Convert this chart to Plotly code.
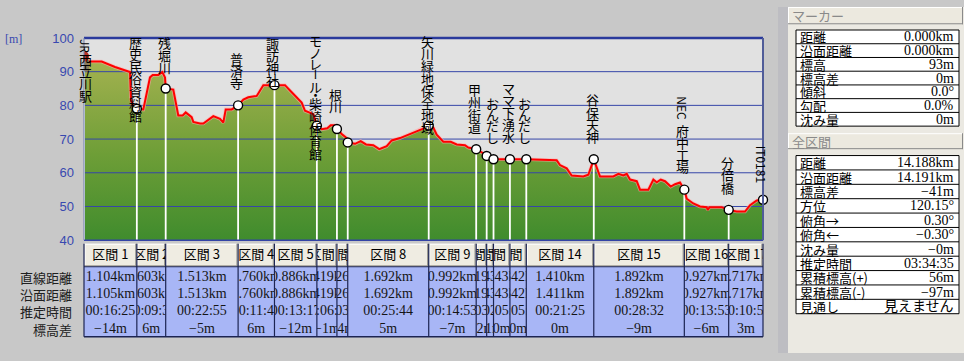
import plotly.graph_objects as go
import numpy as np

W, H = 964, 361

# ---------------- data ----------------
profile_km = [0.000, 0.370, 0.648, 0.926, 0.961, 0.982, 1.030, 1.104, 1.239, 1.379,
              1.435, 1.553, 1.636, 1.693, 1.707, 1.866, 1.970, 2.062, 2.125, 2.250,
              2.284, 2.424, 2.493, 2.702, 2.842, 2.911, 2.961, 3.086, 3.220, 3.329,
              3.433, 3.609, 3.747, 3.980, 4.200, 4.305, 4.549, 4.618, 4.792, 4.866,
              4.967, 5.084, 5.155, 5.245, 5.285, 5.385, 5.489, 5.511, 5.663, 5.782,
              5.893, 6.045, 6.170, 6.325, 6.430, 6.603, 6.776, 6.952, 7.090, 7.203,
              7.299, 7.370, 7.508, 7.663, 7.788, 7.961, 8.030, 8.195, 8.310, 8.414,
              8.557, 8.900, 9.242, 9.877, 9.946, 10.086, 10.190, 10.433, 10.538, 10.652,
              10.783, 11.061, 11.166, 11.270, 11.341, 11.410, 11.550, 11.619, 11.792, 11.897,
              11.968, 12.051, 12.141, 12.260, 12.350, 12.454, 12.544, 12.594, 12.732, 12.872,
              13.012, 13.033, 13.070, 13.325, 13.471, 13.639, 13.812, 13.917, 14.057, 14.188]
profile_m = [93, 93, 91.4, 89.9, 89.9, 81.7, 79.8, 79, 78.8, 88.3,
             89.0, 89.0, 89.9, 88.3, 85, 84.7, 77.0, 77.0, 77.9, 76.5,
             75.1, 74.6, 74.6, 76.8, 76.0, 74.9, 78.8, 78.8, 80, 81.7,
             82.4, 82.8, 86.0, 86, 86, 84.4, 80.8, 78.4, 77.4, 74,
             72.9, 73.2, 74.1, 74.1, 73, 71.5, 70.3, 69, 68.6, 69.4,
             68.4, 68.2, 67.0, 67.9, 69.6, 70.3, 71.3, 72.4, 73.1, 74,
             73.4, 71.3, 69.2, 69.2, 68.4, 68.2, 67.5, 67, 66.0, 65,
             64, 64, 64, 63.7, 62.3, 61.3, 59.2, 58.9, 59.4, 64,
             58.9, 58.9, 59.7, 59.2, 59.7, 58.0, 57.5, 55.0, 55.0, 58.0,
             57.2, 58.0, 57.5, 55.9, 56.6, 57.1, 55, 52.3, 50.9, 50.0,
             49.8, 49.0, 49.8, 49.8, 49, 48.5, 48.5, 50.4, 51.8, 52]

wp_names = ["JR西立川駅", "歴史民俗資料館", "残堀川", "普済寺", "諏訪神社",
            "モノレール・柴崎体育館", "根川", "", "矢川緑地保全地域", "甲州街道", "",
            "おんだし", "ママ下湧水", "おんだし", "谷保天神", "NEC府中工場", "分倍橋", "IT0181"]
wp_elev = [93, 79, 85, 80, 86, 74, 73, 69, 74, 67, 65, 64, 64, 64, 64, 55, 49, 52]

seg_dist_km = [1.104, 0.603, 1.513, 0.760, 0.886, 0.419, 0.226, 1.692, 0.992,
               0.219, 0.143, 0.343, 0.342, 1.410, 1.892, 0.927, 0.717]
seg_surf_km = [1.105, 0.603, 1.513, 0.760, 0.886, 0.419, 0.226, 1.692, 0.992,
               0.219, 0.143, 0.343, 0.342, 1.411, 1.892, 0.927, 0.717]
seg_time = ["00:16:25", "00:09:34", "00:22:55", "00:11:41", "00:13:17", "00:06:24",
            "00:03:21", "00:25:44", "00:14:53", "00:03:16", "00:02:08", "00:05:06",
            "00:05:05", "00:21:25", "00:28:32", "00:13:53", "00:10:56"]
seg_dh_m = [-14, 6, -5, 6, -12, -1, -4, 5, -7, -2, -1, 0, 0, 0, -9, -6, 3]

row_labels = ["直線距離", "沿面距離", "推定時間", "標高差"]
y_ticks = [40, 50, 60, 70, 80, 90, 100]

marker_labels = ["距離", "沿面距離", "標高", "標高差", "傾斜", "勾配", "沈み量"]
marker_values = ["0.000km", "0.000km", "93m", "0m", "0.0°", "0.0%", "0m"]
total_labels = ["距離", "沿面距離", "標高差", "方位", "俯角→", "俯角←", "沈み量",
                "推定時間", "累積標高(+)", "累積標高(-)", "見通し"]
total_values = ["14.188km", "14.191km", "−41m", "120.15°", "0.30°", "−0.30°", "−0m",
                "03:34:35", "56m", "−97m", "見えません"]

# ---------------- geometry (pixels) ----------------
X0, X1 = 84, 763          # plot area left/right
Y0, Y1 = 32.3, 243.3      # plot area top/bottom
YMIN, YMAX = y_ticks[0], y_ticks[-1]
TH0, THB, TB1 = 247, 271, 344   # table header top, body top, bottom

cum = np.concatenate([[0.0], np.cumsum(seg_dist_km)])
total = float(cum[-1])
px_per_km = (X1 - X0) / total
px_per_m = (Y1 - Y0) / (YMAX - YMIN)


def kx(km):
    return X0 + km * px_per_km


def my(m):
    return Y0 + (YMAX - m) * px_per_m


def PX(x):
    return x / W


def PY(y):
    return 1 - y / H


shapes = []
annotations = []


def rect(x0, y0, x1, y1, fill, line=None, lw=0, layer="below"):
    shapes.append(dict(type="rect", xref="paper", yref="paper",
                       x0=PX(x0), x1=PX(x1), y0=PY(y1), y1=PY(y0),
                       fillcolor=fill, layer=layer,
                       line=dict(width=lw, color=line or fill)))


def seg(x0, y0, x1, y1, color, lw=1, layer="above"):
    shapes.append(dict(type="line", xref="paper", yref="paper",
                       x0=PX(x0), x1=PX(x1), y0=PY(y0), y1=PY(y1),
                       layer=layer, line=dict(width=lw, color=color)))


def text(x, y, s, size=13, color="black", family="Noto Sans CJK JP", xanchor="center", angle=0):
    annotations.append(dict(x=PX(x), y=PY(y), xref="paper", yref="paper", text=s,
                            showarrow=False, xanchor=xanchor, yanchor="middle",
                            textangle=angle, font=dict(size=size, color=color, family=family)))


fig = go.Figure()

# plot background
rect(X0, Y0, X1, Y1, "#e1e1e1")

# filled terrain
fig.add_trace(go.Scatter(x=profile_km, y=profile_m, mode="lines", line=dict(width=0),
                         fill="tozeroy",
                         fillgradient=dict(type="vertical",
                                           colorscale=[[0, "#3b8a2c"], [0.45, "#6e9e37"], [1, "#b0b655"]],
                                           start=YMIN, stop=YMAX),
                         hoverinfo="skip", showlegend=False))

# grid lines (on top of terrain)
gx, gy = [], []
for g in y_ticks[1:-1]:
    gx += [0, total, None]
    gy += [g, g, None]
fig.add_trace(go.Scatter(x=gx, y=gy, mode="lines", line=dict(color="#3646a8", width=1),
                         hoverinfo="skip", showlegend=False))

# white drop lines
dx, dy = [], []
for c, e in zip(cum, wp_elev):
    dx += [c, c, None]
    dy += [e, YMIN, None]
fig.add_trace(go.Scatter(x=dx, y=dy, mode="lines", line=dict(color="white", width=1.8),
                         hoverinfo="skip", showlegend=False))

# profile line with light halo
fig.add_trace(go.Scatter(x=profile_km, y=profile_m, mode="lines",
                         line=dict(color="rgba(255,170,170,0.6)", width=3.6),
                         hoverinfo="skip", showlegend=False))
fig.add_trace(go.Scatter(x=profile_km, y=profile_m, mode="lines",
                         line=dict(color="#ff0000", width=2),
                         hoverinfo="skip", showlegend=False))

# waypoint markers
fig.add_trace(go.Scatter(x=cum[1:], y=wp_elev[1:], mode="markers",
                         marker=dict(symbol="circle", size=9, color="white",
                                     line=dict(color="black", width=1.4)),
                         hoverinfo="skip", showlegend=False, cliponaxis=False))

# hiker icon at start
shapes.append(dict(type="rect", xref="x", yref="y", xsizemode="pixel", ysizemode="pixel",
                   xanchor=cum[0], yanchor=wp_elev[0], x0=-2, x1=5, y0=-10, y1=2,
                   fillcolor="#8c7c5c", line=dict(width=0), layer="above"))
shapes.append(dict(type="circle", xref="x", yref="y", xsizemode="pixel", ysizemode="pixel",
                   xanchor=cum[0], yanchor=wp_elev[0], x0=-3, x1=5, y0=0, y1=10,
                   fillcolor="#b83024", line=dict(width=0), layer="above"))

# waypoint labels (vertical text)
ASC_W = {"I": 4.5, "1": 5.5, "T": 7.5, "N": 10, "E": 9.5, "C": 10}


def char_pitch(ch):
    if ch == "・":
        return 6.0
    if "\u3040" <= ch <= "\u30ff":   # kana
        return 11.3
    return 12.3


def slots_for(name):
    out = []
    buf = ""
    for ch in name:
        if ord(ch) < 128:
            buf += ch
            continue
        if buf:
            out.append((buf, sum(ASC_W.get(c, 6.5) for c in buf) + 2, 90))
            buf = ""
        out.append((ch, char_pitch(ch), 90 if ch == "ー" else 0))
    if buf:
        out.append((buf, sum(ASC_W.get(c, 6.5) for c in buf) + 2, 90))
    return out


for c, e, name in zip(cum, wp_elev, wp_names):
    if not name:
        continue
    sl = slots_for(name)
    hh = sum(s[1] for s in sl)
    mpx = my(e)
    top = mpx - 16.5 - hh
    if top < Y0 + 1:
        top = Y0 + 1
    acc = top
    for s, h, ang in sl:
        cy = acc + h / 2
        acc += h
        annotations.append(dict(x=c, y=e, xref="x", yref="y", text=s, showarrow=False,
                                xanchor="center", yanchor="middle", textangle=ang,
                                xshift=(1.5 if c == 0 else -1.5),
                                yshift=mpx - cy,
                                font=dict(size=13 if ang == 0 else 12, color="black",
                                          family="Noto Sans CJK JP")))

# frame lines of plot
seg(X0, Y0, X1, Y0, "#2a3a9c", 2.5)
seg(X0, Y1, X1, Y1, "#3343a6", 1.5)
seg(X1, Y0, X1, Y1, "#505c98", 2)
seg(X0, Y0, X0, Y1, "#7080b0", 1)

# "[m]" label
text(3, 33, "[m]", size=12, color="#3848b0", family="Liberation Serif", xanchor="left")

# ---------------- table ----------------
rect(X0, THB, X1, TB1, "#a8b6f6")
row_y = [35, 53, 70.5, 89]     # relative to header top
for i in range(len(seg_dist_km)):
    xa, xb = kx(cum[i]), kx(cum[i + 1])
    # header button
    rect(xa + 0.5, TH0, xb - 0.5, THB, "#efece2")
    seg(xa + 1, TH0 + 0.5, xb - 1, TH0 + 0.5, "white", 1, "below")
    seg(xa + 1, TH0, xa + 1, THB, "white", 1, "below")
    seg(xb - 1.2, TH0, xb - 1.2, THB, "#9a9890", 1, "below")
    seg(xa, THB - 1, xb, THB - 1, "#9a9890", 1, "below")
    n = i + 2
    fig.layout[f"xaxis{n}"] = dict(domain=[PX(xa), PX(xb)], range=[cum[i], cum[i + 1]],
                                   visible=False, fixedrange=True, anchor=f"y{n}")
    fig.layout[f"yaxis{n}"] = dict(domain=[PY(TB1), PY(TH0)], range=[TB1 - TH0, 0],
                                   visible=False, fixedrange=True, anchor=f"x{n}")
    mid = (cum[i] + cum[i + 1]) / 2
    fig.add_trace(go.Scatter(x=[mid], y=[13], text=[f"区間 {i + 1}"], mode="text",
                             textfont=dict(family="Noto Sans CJK JP", size=13, color="black"),
                             xaxis=f"x{n}", yaxis=f"y{n}", cliponaxis=True,
                             hoverinfo="skip", showlegend=False))
    vals = [f"{seg_dist_km[i]:.3f}km", f"{seg_surf_km[i]:.3f}km", seg_time[i],
            f"{seg_dh_m[i]}m".replace("-", "−")]
    fig.add_trace(go.Scatter(x=[mid] * 4, y=row_y, text=vals, mode="text",
                             textfont=dict(family="Liberation Serif", size=14, color="#151515"),
                             xaxis=f"x{n}", yaxis=f"y{n}", cliponaxis=True,
                             hoverinfo="skip", showlegend=False))

for c in cum:
    seg(kx(c), TH0, kx(c), TB1, "#1c2452", 1.2)
seg(X0, THB, X1, THB, "#1c2452", 1)
seg(X0, TB1, X1, TB1, "#1c2452", 1.5)

for lab, ry in zip(row_labels, row_y):
    text(74, TH0 + ry, lab, size=13, color="#202020", xanchor="right")

# ---------------- right panel ----------------
rect(778, 0, 788, H, "#bdbdc2")
rect(788, 0, W, H, "#ebe9e2")


def panel_bar(y0, y1, title):
    rect(788, y0, 963, y1, "#ece9df")
    seg(788, y0 + 0.5, 963, y0 + 0.5, "white", 1, "below")
    seg(788.5, y0, 788.5, y1, "white", 1, "below")
    seg(788, y1 - 0.5, 963, y1 - 0.5, "#8a8a8a", 1, "below")
    seg(962.5, y0, 962.5, y1, "#8a8a8a", 1, "below")
    text(790, (y0 + y1) / 2, title, size=13, color="#8a8a8a", xanchor="left")


def panel_box(y0, y1, labels, values):
    rect(796, y0, 959, y1, "white", "black", 1)
    rh = (y1 - y0) / len(labels)
    for k, (lab, val) in enumerate(zip(labels, values)):
        cy = y0 + rh * (k + 0.5)
        if k > 0:
            seg(796, y0 + rh * k, 959, y0 + rh * k, "black", 1, "below")
        text(798, cy, lab, size=13, color="black", xanchor="left")
        text(956, cy, val, size=14, color="black",
             family="Liberation Serif, Noto Sans CJK JP", xanchor="right")


panel_bar(0, 18, "マーカー")
panel_box(24, 124.3, marker_labels, marker_values)
panel_bar(131.7, 148.3, "全区間")
panel_box(155, 320, total_labels, total_values)

fig.update_layout(
    width=W, height=H, margin=dict(l=0, r=0, t=0, b=0),
    paper_bgcolor="#c8c8c8", plot_bgcolor="rgba(0,0,0,0)",
    showlegend=False, shapes=shapes, annotations=annotations,
    xaxis=dict(domain=[PX(X0), PX(X1)], range=[0, total], visible=False, fixedrange=True),
    yaxis=dict(domain=[PY(Y1), PY(Y0)], range=[YMIN, YMAX], tickvals=y_ticks,
               ticktext=[str(t) for t in y_ticks], showgrid=False, zeroline=False,
               showline=False, ticks="", ticklabelstandoff=9, fixedrange=True,
               tickfont=dict(family="Liberation Sans", size=13, color="#3848b0")),
)

fig.write_html("out.html", config={"displayModeBar": False},
               post_script="document.body.style.margin='0';document.body.style.padding='0';"
                           "document.body.style.overflow='hidden';")
